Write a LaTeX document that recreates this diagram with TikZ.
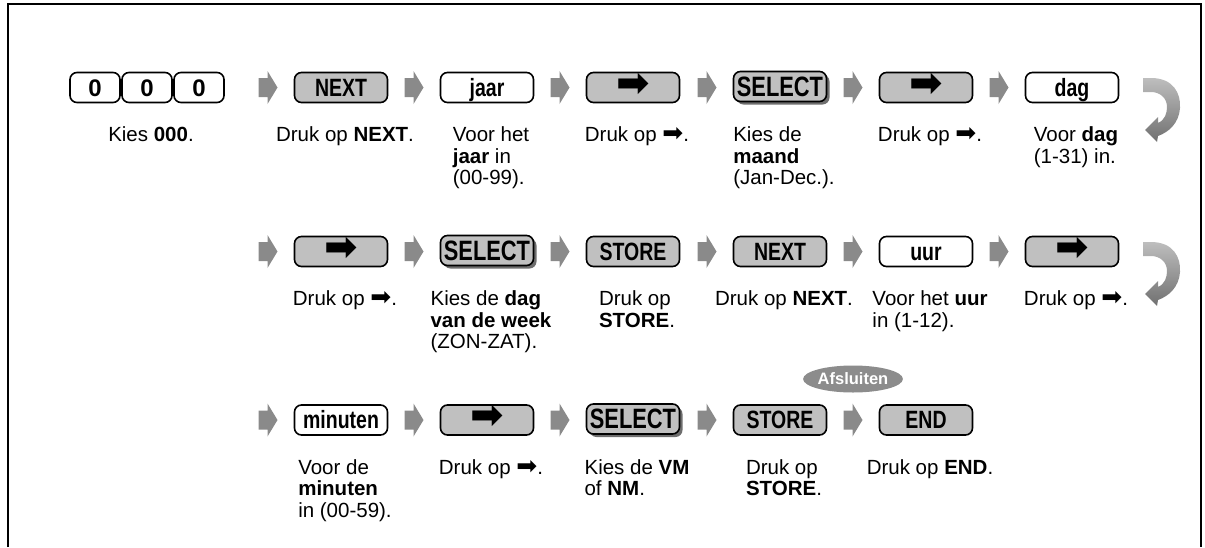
\documentclass[tikz,border=0pt]{standalone}
\usepackage{fontspec}
\setmainfont{Liberation Sans}
\newfontfamily\keyfont[FakeStretch=0.78]{Liberation Sans}
\newfontfamily\symfont{DejaVu Sans}
\usetikzlibrary{shapes.geometric,shadows}
\definecolor{keygray}{RGB}{192,192,192}
\definecolor{stepgray}{RGB}{138,138,138}
\definecolor{shadowgray}{RGB}{110,110,110}
\definecolor{badgegray}{RGB}{140,140,140}
\definecolor{retlight}{RGB}{190,190,190}
\definecolor{retdark}{RGB}{112,112,112}
\newcommand{\rarr}{{\symfont\fontsize{25}{21}\selectfont ➡}}
\newcommand{\keyarr}{{\symfont\fontsize{40}{40}\selectfont ➡}}
\tikzset{
  key/.style={draw=black, line width=1.6pt, rounded corners=7pt, minimum width=93pt,
    minimum height=30pt, inner sep=0pt, text height=17.5pt, text depth=0pt,
    font=\keyfont\bfseries\fontsize{25}{25}\selectfont},
  gkey/.style={key, fill=keygray},
  wkey/.style={key, fill=white},
  zkey/.style={wkey, minimum width=50pt, font=\bfseries\fontsize{24}{24}\selectfont, text height=17pt},
  selkey/.style={gkey, font=\keyfont\bfseries\fontsize{28}{28}\selectfont, text height=19.8pt,
    general shadow={fill=shadowgray, shadow xshift=3pt, shadow yshift=-3pt}},
  desc/.style={anchor=north, align=left, inner sep=0pt, font=\fontsize{20.5}{21.5}\selectfont},
  badge/.style={ellipse, fill=badgegray, text=white, inner sep=0pt, minimum width=97pt,
    minimum height=27pt, font=\bfseries\fontsize{16.5}{16.5}\selectfont},
  steparrow/.pic={\fill[stepgray] (-9.5,-9.5) -- (-0.5,-9.5) -- (-0.5,-16.5) -- (9.5,0) -- (-0.5,16.5) -- (-0.5,9.5) -- (-9.5,9.5) -- cycle;},
  returnarrow/.pic={\shade[top color=retlight, bottom color=retdark]
    (0,0) -- (8,0) .. controls (30,0) and (38,15) .. (37,30)
    .. controls (36,45) and (26,54) .. (15,58)
    -- (14,64) -- (2,52) -- (15,39) -- (15,45)
    .. controls (22,42) and (24,35) .. (24,29)
    .. controls (24,20) and (17,14) .. (8,14) -- (0,14) -- cycle;}
}
\begin{document}
\begin{tikzpicture}[x=1pt,y=-1pt]
\useasboundingbox (0,0) rectangle (1205,547);
% frame
\draw[line width=2pt] (8,547) -- (8,4) -- (1201,4) -- (1201,547);

% ---------- row 1 ----------
\node[zkey] (r1k0a) at (95,87.5) {0};
\node[zkey] (r1k0b) at (147,87.5) {0};
\node[zkey] (r1k0c) at (199,87.5) {0};
\node[desc] (r1t0) at (151,126.5) {Kies \textbf{000}.};
\pic at (268,87.5) {steparrow};
\node[gkey] (r1k1) at (341,87.5) {NEXT};
\node[desc] (r1t1) at (345,126.5) {Druk op \textbf{NEXT}.};
\pic at (414,87.5) {steparrow};
\node[wkey] (r1k2) at (487,87.5) {jaar};
\node[desc] (r1t2) at (491,126.5) {Voor het\\\textbf{jaar} in\\(00-99).};
\pic at (560,87.5) {steparrow};
\node[gkey] (r1k3) at (633,87.5) {\keyarr};
\node[desc] (r1t3) at (637,126.5) {Druk op \rarr.};
\pic at (707,87.5) {steparrow};
\node[selkey] (r1k4) at (780,86.5) {SELECT};
\node[desc] (r1t4) at (784,126.5) {Kies de\\\textbf{maand}\\(Jan-Dec.).};
\pic at (853,87.5) {steparrow};
\node[gkey] (r1k5) at (926,87.5) {\keyarr};
\node[desc] (r1t5) at (930,126.5) {Druk op \rarr.};
\pic at (999,87.5) {steparrow};
\node[wkey] (r1k6) at (1072,87.5) {dag};
\node[desc] (r1t6) at (1076,126.5) {Voor \textbf{dag}\\(1-31) in.};
\pic at (1143,78) {returnarrow};

% ---------- row 2 ----------
\pic at (268,251.5) {steparrow};
\node[gkey] (r2k1) at (341,251.5) {\keyarr};
\node[desc] (r2t1) at (345,290.5) {Druk op \rarr.};
\pic at (414,251.5) {steparrow};
\node[selkey] (r2k2) at (487,250.5) {SELECT};
\node[desc] (r2t2) at (491,290.5) {Kies de \textbf{dag}\\\textbf{van de week}\\(ZON-ZAT).};
\pic at (560,251.5) {steparrow};
\node[gkey] (r2k3) at (633,251.5) {STORE};
\node[desc] (r2t3) at (637,290.5) {Druk op\\\textbf{STORE}.};
\pic at (707,251.5) {steparrow};
\node[gkey] (r2k4) at (780,251.5) {NEXT};
\node[desc] (r2t4) at (784,290.5) {Druk op \textbf{NEXT}.};
\pic at (853,251.5) {steparrow};
\node[wkey] (r2k5) at (926,251.5) {uur};
\node[desc] (r2t5) at (930,290.5) {Voor het \textbf{uur}\\in (1-12).};
\pic at (999,251.5) {steparrow};
\node[gkey] (r2k6) at (1072,251.5) {\keyarr};
\node[desc] (r2t6) at (1076,290.5) {Druk op \rarr.};
\pic at (1143,242) {returnarrow};

% ---------- row 3 ----------
\pic at (268,420) {steparrow};
\node[wkey] (r3k1) at (341,420) {minuten};
\node[desc] (r3t1) at (345,459) {Voor de\\\textbf{minuten}\\in (00-59).};
\pic at (414,420) {steparrow};
\node[gkey] (r3k2) at (487,420) {\keyarr};
\node[desc] (r3t2) at (491,459) {Druk op \rarr.};
\pic at (560,420) {steparrow};
\node[selkey] (r3k3) at (633,419) {SELECT};
\node[desc] (r3t3) at (637,459) {Kies de \textbf{VM}\\of \textbf{NM}.};
\pic at (707,420) {steparrow};
\node[gkey] (r3k4) at (780,420) {STORE};
\node[desc] (r3t4) at (784,459) {Druk op\\\textbf{STORE}.};
\pic at (853,420) {steparrow};
\node[badge] (afs) at (853,379) {Afsluiten};
\node[gkey] (r3k5) at (926,420) {END};
\node[desc] (r3t5) at (930,459) {Druk op \textbf{END}.};
\end{tikzpicture}
\end{document}
